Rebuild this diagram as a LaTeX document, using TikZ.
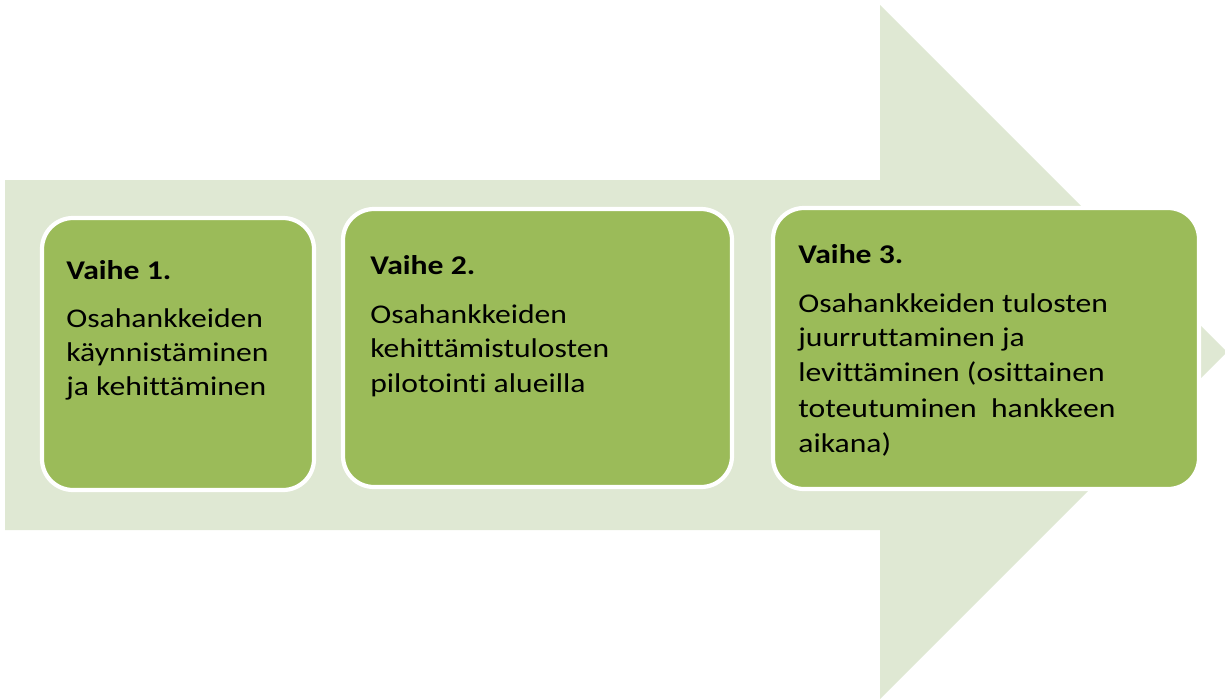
\documentclass[tikz,border=0pt]{standalone}
\usepackage{fontspec}
\setmainfont{Carlito}[FakeStretch=1.17, Ligatures={NoCommon}]
\begin{document}
\begin{tikzpicture}[x=0.02cm,y=-0.02cm,
  flow/.style={fill=arrowgreen, draw=none},
  phase/.style={fill=phasegreen, draw=white, line width=2.4pt, rounded corners=0.62cm},
  line/.style={anchor=base west, inner sep=0pt, font=\fontsize{15.4}{18}\selectfont},
  title/.style={line, font=\fontsize{15.4}{18}\selectfont\bfseries}]
\definecolor{arrowgreen}{HTML}{DFE8D3}
\definecolor{phasegreen}{HTML}{9BBB59}
\useasboundingbox (0,0) rectangle (1225,700);
% background block arrow
\fill[flow] (5,180) -- (880,180) -- (880,5) -- (1227,352) -- (880,699) -- (880,530) -- (5,530) -- cycle;
% phase boxes
\draw[phase] (42,218) rectangle (314,490);
\draw[phase] (343,209) rectangle (732,487);
\draw[phase] (773,208) rectangle (1199,489);
% phase 1
\node[title] (t1) at (66,279) {Vaihe 1.};
\node[line] (a1) at (66,327) {Osahankkeiden};
\node[line] (b1) at (66,361) {käynnistäminen};
\node[line] (c1) at (66,395) {ja kehittäminen};
% phase 2
\node[title] (t2) at (370,274) {Vaihe 2.};
\node[line] (a2) at (370,323) {Osahankkeiden};
\node[line] (b2) at (370,357) {kehittämistulosten};
\node[line] (c2) at (370,392) {pilotointi alueilla};
% phase 3
\node[title] (t3) at (798,263) {Vaihe 3.};
\node[line] (a3) at (798,312) {Osahankkeiden tulosten};
\node[line] (b3) at (798,346) {juurruttaminen ja};
\node[line] (c3) at (798,381) {levittäminen (osittainen};
\node[line] (d3) at (798,417) {toteutuminen\ \ hankkeen};
\node[line] (e3) at (798,452) {aikana)};
\end{tikzpicture}
\end{document}
